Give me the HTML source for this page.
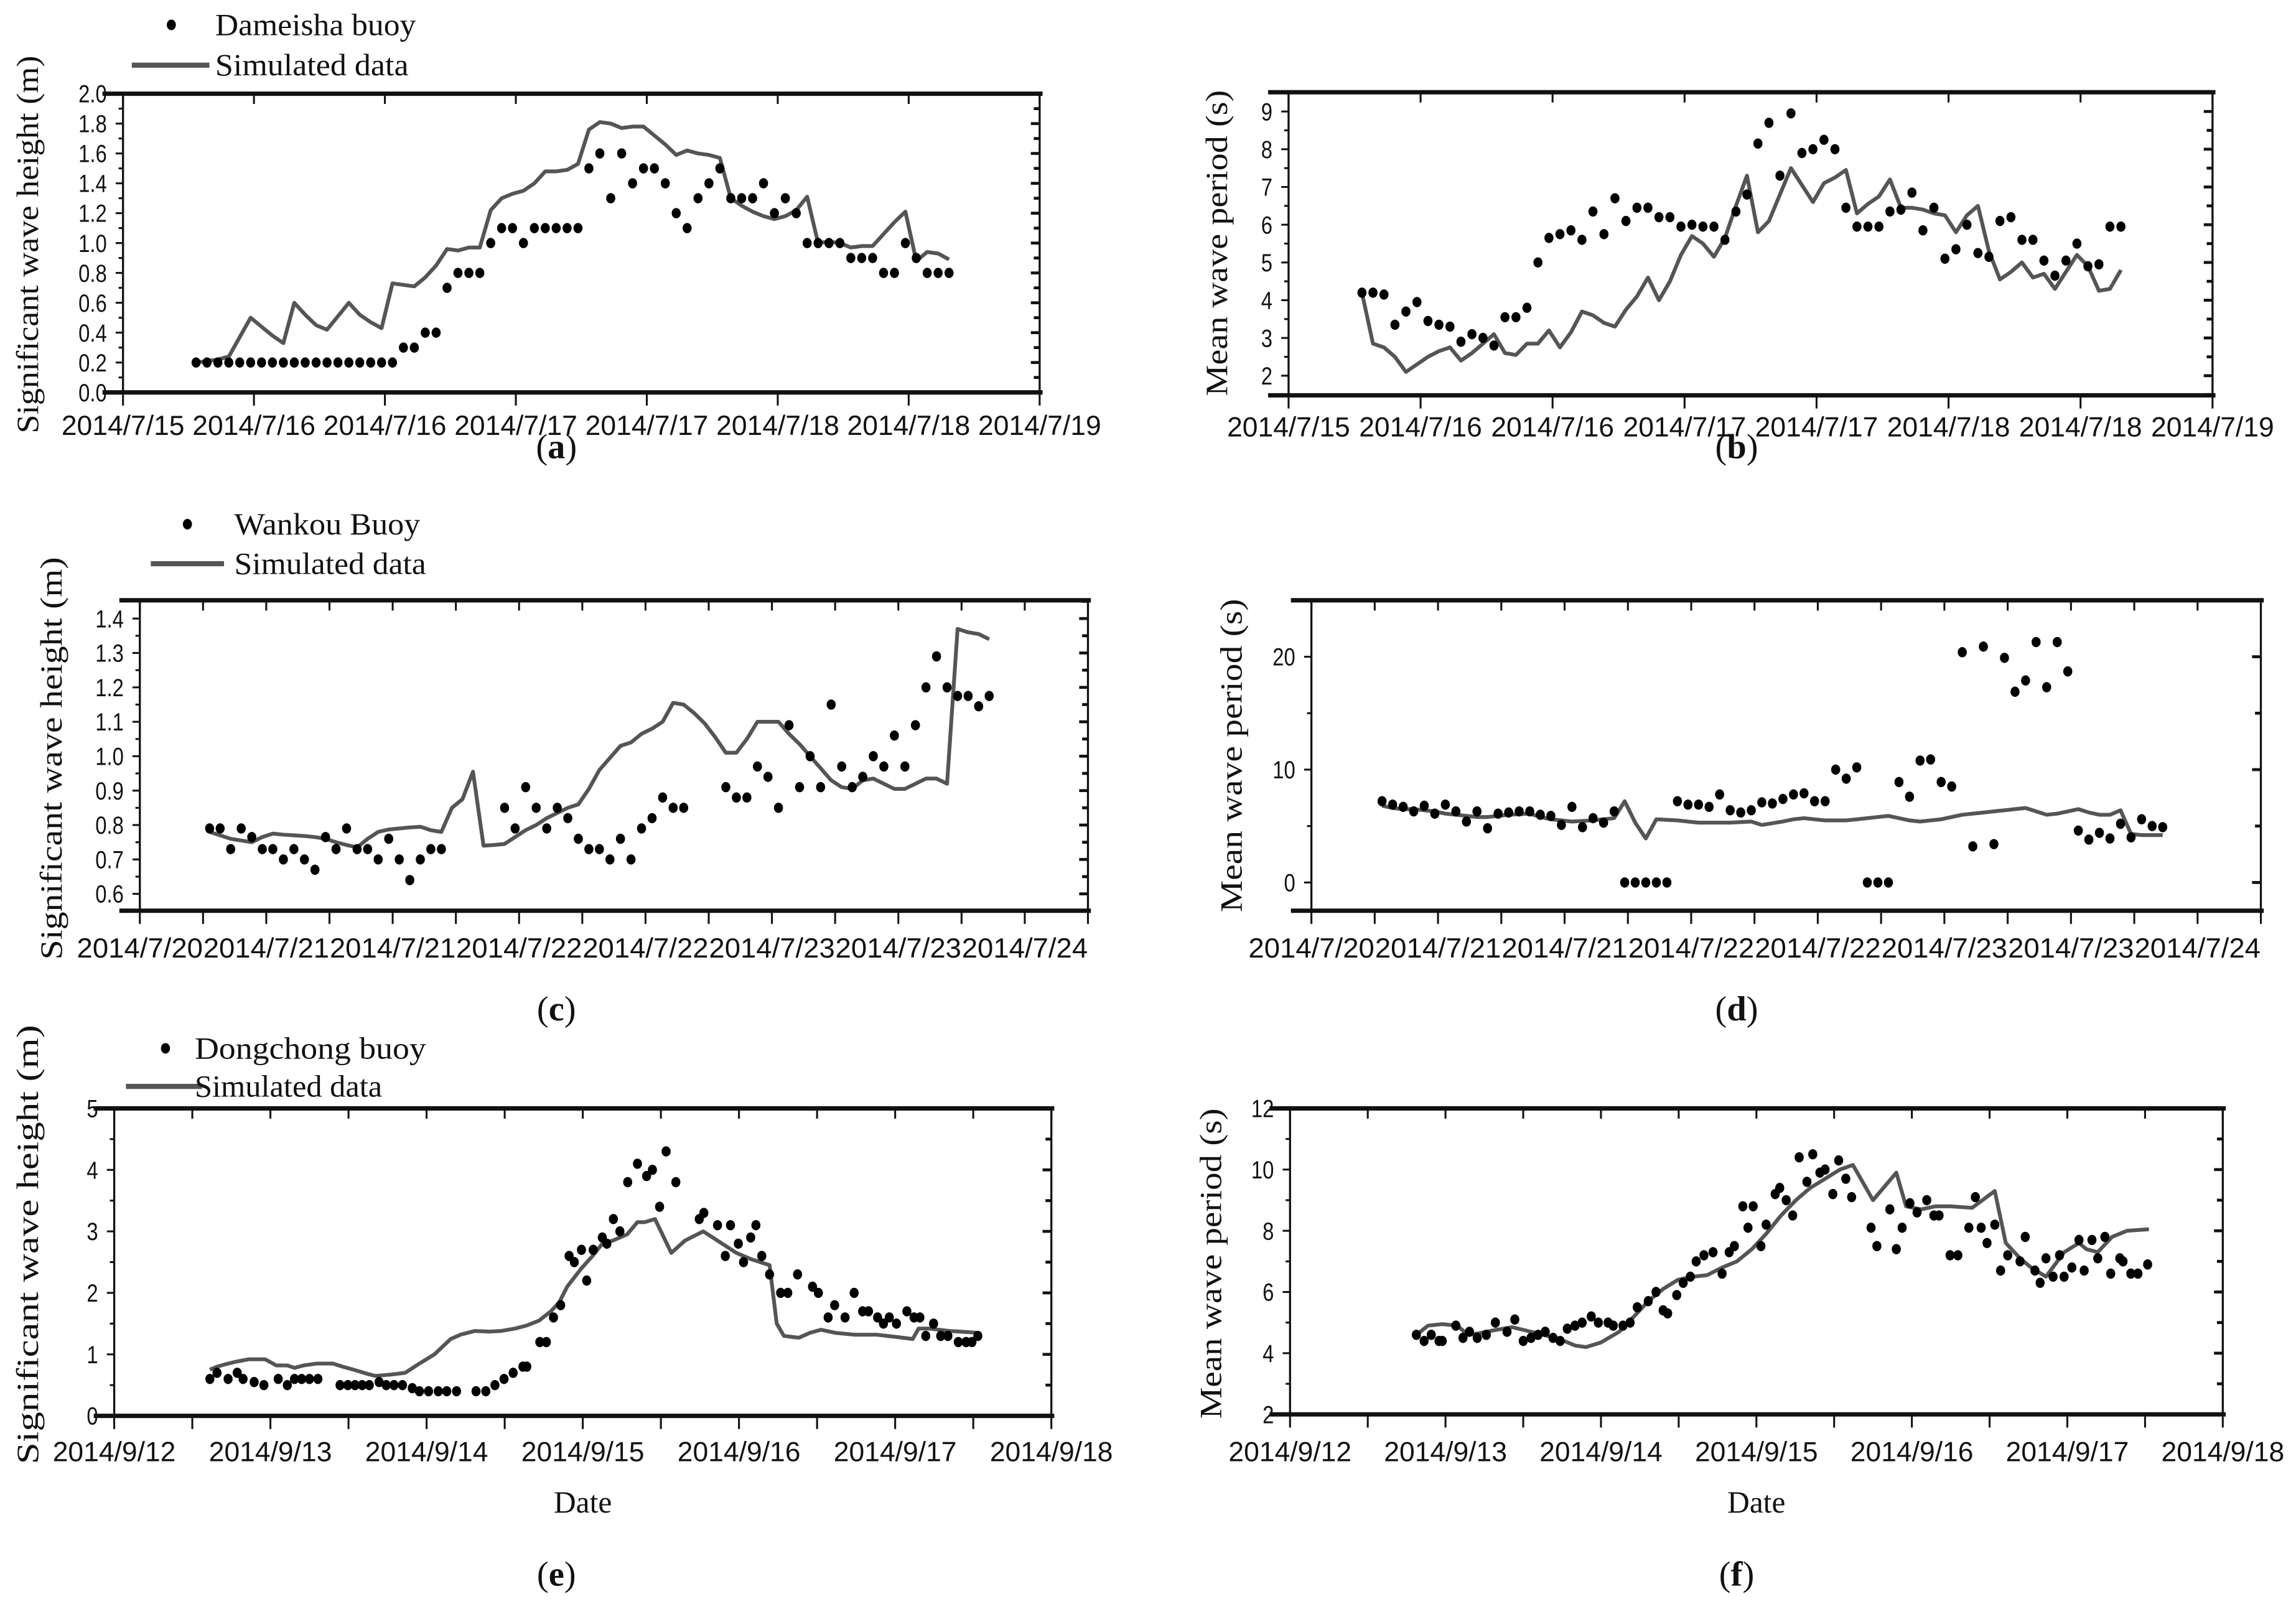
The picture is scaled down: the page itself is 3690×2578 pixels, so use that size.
<!DOCTYPE html>
<html><head><meta charset="utf-8">
<style>
html,body{margin:0;padding:0;background:#fff;}
svg{display:block;}
</style></head>
<body>
<svg id="fig" xmlns="http://www.w3.org/2000/svg" width="3690" height="2578" viewBox="0 0 1568 1095.5" preserveAspectRatio="none">
<rect x="0" y="0" width="1568" height="1095.5" fill="#fff"/>
</svg>
<script>
// ---------- DATA ----------
const aStart = 0.779;
const aObs = [0.2,0.2,0.2,0.2,0.2,0.2,0.2,0.2,0.2,0.2,0.2,0.2,0.2,0.2,0.2,0.2,0.2,0.2,0.2,
0.3,0.3,0.4,0.4,0.7,0.8,0.8,0.8,1.0,1.1,1.1,1.0,1.1,1.1,1.1,1.1,1.1,1.5,1.6,1.3,1.6,1.4,1.5,1.5,1.4,1.2,1.1,1.3,1.4,1.5,1.3,1.3,1.3,1.4,1.2,1.3,1.2,1.0,1.0,1.0,1.0,0.9,0.9,0.9,0.8,0.8,1.0,0.9,0.8,0.8,0.8];
const aSim = [0.20,0.21,0.22,0.24,0.37,0.50,0.44,0.38,0.33,0.60,0.52,0.45,0.42,0.51,0.60,0.52,0.47,0.43,0.73,0.72,0.71,0.77,0.85,0.96,0.95,0.97,0.97,1.22,1.30,1.33,1.35,1.40,1.48,1.48,1.49,1.53,1.76,1.81,1.80,1.77,1.78,1.78,1.72,1.66,1.59,1.62,1.60,1.59,1.57,1.30,1.25,1.21,1.18,1.16,1.18,1.22,1.31,1.00,1.01,1.00,0.97,0.98,0.98,1.06,1.14,1.21,0.88,0.94,0.93,0.89];
const bStart = 0.778;
const bObs = [4.2,4.2,4.15,3.35,3.7,3.95,3.45,3.35,3.3,2.9,3.1,3.0,2.8,3.55,3.55,3.8,5.0,5.65,5.75,5.85,5.6,6.35,5.75,6.7,6.1,6.45,6.45,6.2,6.2,5.95,6.0,5.95,5.95,5.6,6.35,6.8,8.15,8.7,7.3,8.95,7.9,8.0,8.25,8.0,6.45,5.95,5.95,5.95,6.35,6.4,6.85,5.85,6.45,5.1,5.35,6.0,5.25,5.15,6.1,6.2,5.6,5.6,5.05,4.65,5.05,5.5,4.9,4.95,5.95,5.95];
const bSim = [4.2,2.85,2.75,2.5,2.1,2.3,2.5,2.65,2.75,2.4,2.6,2.85,3.1,2.6,2.55,2.85,2.85,3.2,2.75,3.15,3.7,3.6,3.4,3.3,3.75,4.1,4.6,4.0,4.5,5.2,5.7,5.5,5.15,5.65,6.5,7.3,5.8,6.1,6.8,7.5,7.05,6.6,7.1,7.25,7.45,6.3,6.55,6.75,7.2,6.45,6.45,6.4,6.3,6.25,5.8,6.25,6.5,5.3,4.55,4.75,5.0,4.6,4.7,4.3,4.75,5.2,4.9,4.25,4.3,4.8];
const cStart = 0.776;
const cObs = [0.79,0.79,0.73,0.79,0.765,0.73,0.73,0.70,0.73,0.70,0.67,0.765,0.73,0.79,0.73,0.73,0.70,0.76,0.70,0.64,0.70,0.73,0.73,null,null,null,null,null,0.85,0.79,0.91,0.85,0.79,0.85,0.82,0.76,0.73,0.73,0.70,0.76,0.70,0.79,0.82,0.88,0.85,0.85,null,null,null,0.91,0.88,0.88,0.97,0.94,0.85,1.09,0.91,1.00,0.91,1.15,0.97,0.91,0.94,1.00,0.97,1.06,0.97,1.09,1.20,1.29,1.20,1.175,1.175,1.145,1.175];
const cSim = [0.78,0.77,0.76,0.755,0.75,0.765,0.775,0.772,0.77,0.768,0.765,0.76,0.75,0.742,0.735,0.76,0.78,0.787,0.79,0.793,0.795,0.785,0.78,0.85,0.875,0.955,0.74,0.742,0.745,0.765,0.785,0.80,0.82,0.835,0.85,0.86,0.905,0.96,0.995,1.03,1.04,1.065,1.08,1.10,1.155,1.15,1.125,1.095,1.055,1.01,1.01,1.05,1.10,1.10,1.10,1.065,1.035,1.0,0.965,0.93,0.91,0.905,0.93,0.935,0.92,0.905,0.905,0.92,0.935,0.935,0.92,1.37,1.36,1.355,1.34];
const dStart = 0.779;
const dObs = [7.2,6.9,6.7,6.3,6.8,6.1,6.9,6.3,5.4,6.3,4.8,6.1,6.2,6.3,6.3,6.0,5.9,5.1,6.7,4.9,5.7,5.3,6.3,0,0,0,0,0,7.2,6.9,6.9,6.7,7.8,6.4,6.2,6.4,7.1,7.0,7.4,7.8,7.9,7.2,7.2,10.0,9.2,10.2,0,0,0,8.9,7.6,10.8,10.9,8.9,8.5,20.4,3.2,20.9,3.4,19.9,16.9,17.9,21.3,17.3,21.3,18.7,4.6,3.8,4.4,3.9,5.2,4.0,5.6,5.0,4.9];
const dSim = [6.8,6.6,6.5,6.5,6.4,6.3,6.1,6.0,5.9,5.8,5.8,5.9,6.0,6.05,6.1,5.8,5.6,5.5,5.4,5.45,5.5,5.6,5.7,7.2,5.3,3.9,5.6,5.55,5.5,5.4,5.3,5.3,5.3,5.3,5.35,5.4,5.1,5.25,5.4,5.6,5.7,5.6,5.5,5.5,5.5,5.6,5.7,5.8,5.9,5.7,5.5,5.4,5.5,5.6,5.8,6.0,6.1,6.2,6.3,6.4,6.5,6.6,6.3,6.0,6.1,6.3,6.5,6.2,6.0,6.0,6.4,4.3,4.2,4.2,4.2];
const eObsT = [14.7,15.8,17.5,18.9,19.8,21.5,23.0,25.2,26.6,27.7,28.8,30.0,31.3,34.7,35.9,37.0,38.1,39.2,40.7,41.8,43.0,44.3,45.8,46.9,48.3,49.8,51.1,52.6,55.6,57.1,58.5,59.9,61.3,62.8,63.4,65.4,66.4,67.5,68.6,69.9,70.7,71.8,72.6,73.6,75.0,75.7,76.7,77.7,78.9,80.4,81.8,82.7,83.8,84.8,86.3,89.9,90.6,92.7,93.9,94.7,95.9,96.7,97.8,98.6,99.5,100.7,102.4,103.5,105.0,107.3,108.2,109.7,110.7,112.3,113.7,115.0,115.9,117.3,118.2,119.1,120.2,121.8,122.9,123.8,124.7,125.9,127.0,128.1,129.7,130.9,131.8,132.7];
const eObs = [0.6,0.7,0.6,0.7,0.6,0.55,0.5,0.6,0.5,0.6,0.6,0.6,0.6,0.5,0.5,0.5,0.5,0.5,0.55,0.5,0.5,0.5,0.45,0.4,0.4,0.4,0.4,0.4,0.4,0.4,0.5,0.6,0.7,0.8,0.8,1.2,1.2,1.6,1.8,2.6,2.5,2.7,2.2,2.7,2.9,2.8,3.2,3.0,3.8,4.1,3.9,4.0,3.4,4.3,3.8,3.2,3.3,3.1,2.6,3.1,2.8,2.5,2.9,3.1,2.6,2.3,2.0,2.0,2.3,2.1,2.0,1.6,1.8,1.6,2.0,1.7,1.7,1.6,1.5,1.6,1.5,1.7,1.6,1.6,1.3,1.5,1.3,1.3,1.2,1.2,1.2,1.3];
const eSimT = [14.7,15.8,17.5,18.7,20.7,23.2,24.9,26.6,27.7,29.1,31.1,33.6,35.1,36.8,39.0,40.1,42.4,44.7,46.9,49.2,51.7,53.2,55.4,57.7,59.4,61.6,63.4,65.3,67.1,68.4,69.6,71.8,73.5,75.0,76.6,78.8,80.4,81.5,83.1,85.6,87.7,90.5,92.7,95.6,97.8,100.7,101.8,102.9,105.2,106.9,108.6,110.8,113.7,117.1,120.4,122.7,123.6,125.2,128.4,132.9];
const eSim = [0.75,0.8,0.85,0.88,0.92,0.92,0.82,0.82,0.78,0.82,0.85,0.85,0.8,0.75,0.68,0.65,0.67,0.7,0.85,1.0,1.25,1.32,1.38,1.37,1.38,1.42,1.47,1.55,1.7,1.85,2.1,2.4,2.6,2.8,2.85,2.95,3.15,3.15,3.2,2.65,2.85,3.0,2.85,2.65,2.55,2.45,1.5,1.3,1.27,1.35,1.4,1.35,1.32,1.32,1.28,1.25,1.42,1.42,1.38,1.35];
const fObsT = [19.5,20.7,21.8,23.0,23.5,25.6,26.7,27.7,28.9,30.3,31.7,33.5,34.7,36.0,37.2,38.3,39.4,40.6,41.7,42.8,44.0,45.1,46.5,47.6,49.1,49.9,51.4,52.5,53.6,55.3,56.5,57.6,58.3,59.7,60.7,61.8,62.7,63.9,65.3,66.7,67.8,68.6,69.9,70.7,71.5,72.7,73.5,74.9,75.6,76.6,77.6,78.6,79.8,80.7,81.8,82.6,83.8,84.7,85.8,86.7,89.7,90.6,92.6,93.6,94.5,95.7,96.8,98.3,99.4,100.2,101.9,103.1,104.8,105.8,106.7,107.6,108.8,109.7,110.8,112.7,113.5,115.0,115.8,116.7,117.8,118.8,119.5,120.7,121.8,122.6,123.8,124.7,125.8,126.7,128.1,128.6,129.8,130.9,132.4];
const fObs = [4.6,4.4,4.6,4.4,4.4,4.9,4.5,4.7,4.5,4.6,5.0,4.7,5.1,4.4,4.5,4.6,4.7,4.5,4.4,4.8,4.9,5.0,5.2,5.0,5.0,4.9,4.9,5.0,5.5,5.7,6.0,5.4,5.3,5.9,6.3,6.5,7.0,7.2,7.3,6.6,7.3,7.5,8.8,8.1,8.8,7.5,8.2,9.2,9.4,9.0,8.5,10.4,9.6,10.5,9.9,10.0,9.2,10.3,9.7,9.1,8.1,7.5,8.7,7.4,8.1,8.9,8.6,9.0,8.5,8.5,7.2,7.2,8.1,9.1,8.1,7.6,8.2,6.7,7.2,7.0,7.8,6.7,6.3,7.1,6.5,7.2,6.5,6.8,7.7,6.7,7.7,7.1,7.8,6.6,7.1,7.0,6.6,6.6,6.9];
const fSimT = [19.5,21.3,23.5,25.8,27.5,29.2,31.5,34.3,37.2,40.0,42.3,44.0,45.7,48.0,50.8,53.1,55.3,57.6,59.9,62.2,64.4,66.7,69.0,71.3,73.5,75.8,78.1,80.3,82.6,84.9,86.9,90.0,93.6,95.1,97.4,99.7,101.9,105.3,108.8,110.5,112.7,114.4,116.7,119.5,121.8,122.95,124.7,126.9,129.2,132.6];
const fSim = [4.6,4.9,4.95,4.9,4.6,4.65,4.75,4.85,4.7,4.55,4.4,4.25,4.2,4.35,4.7,5.2,5.7,6.1,6.4,6.5,6.55,6.8,7.0,7.4,7.9,8.5,9.0,9.4,9.7,10.0,10.15,9.0,9.9,8.8,8.7,8.8,8.8,8.75,9.3,7.6,7.1,6.8,6.5,7.3,7.6,7.4,7.3,7.8,8.0,8.05];
const julyAB = ["2014/7/15","2014/7/16","2014/7/16","2014/7/17","2014/7/17","2014/7/18","2014/7/18","2014/7/19"];
const julyCD = ["2014/7/20","2014/7/21","2014/7/21","2014/7/22","2014/7/22","2014/7/23","2014/7/23","2014/7/24"];
const septEF = ["2014/9/12","2014/9/13","2014/9/14","2014/9/15","2014/9/16","2014/9/17","2014/9/18"];
const aYTicks = ["0.0","0.2","0.4","0.6","0.8","1.0","1.2","1.4","1.6","1.8","2.0"];
const bYTicks = ["2","3","4","5","6","7","8","9"];
const cYTicks = ["0.6","0.7","0.8","0.9","1.0","1.1","1.2","1.3","1.4"];
const dYTicks = ["0","10","20"];
const eYTicks = ["0","1","2","3","4","5"];
const fYTicks = ["2","4","6","8","10","12"];

// ---------- DRAWING ----------
const NS = "http://www.w3.org/2000/svg";
const svg = document.getElementById("fig");
function mk(tag, attrs, parent){
  const e = document.createElementNS(NS, tag);
  for (const k in attrs) e.setAttribute(k, attrs[k]);
  (parent||svg).appendChild(e);
  return e;
}
const SANS = '"Liberation Sans", Arial, sans-serif';
const SERIF = '"Liberation Serif", "Times New Roman", serif';

function panel(p){
  const g = mk("g", {});
  
  
  const sx = v => p.x0 + (v - p.xmin) / (p.xmax - p.xmin) * (p.x1 - p.x0);
  const sy = v => p.y1 - (v - p.ymin) / (p.ymax - p.ymin) * (p.y1 - p.y0);
  const fr = mk("g", {}, g);
  
  
  mk("line", {x1:p.x0-14, y1:p.y0, x2:p.x1+2, y2:p.y0, stroke:"#111", "stroke-width":3}, fr);
  mk("line", {x1:p.x0-14, y1:p.y1, x2:p.x1+2, y2:p.y1, stroke:"#111", "stroke-width":3}, fr);
  mk("line", {x1:p.x0, y1:p.y0, x2:p.x0, y2:p.y1, stroke:"#111", "stroke-width":1.4}, fr);
  mk("line", {x1:p.x1, y1:p.y0, x2:p.x1, y2:p.y1, stroke:"#111", "stroke-width":1.4}, fr);
  const xa = mk("g", {}, g);
  
  
  for (let t = p.xmin; t <= p.xmax + 1e-9; t += p.xminor){
    const X = sx(t);
    mk("line", {x1:X, y1:p.y1, x2:X, y2:p.y1+9, stroke:"#111", "stroke-width":1.3}, xa);
    mk("line", {x1:X, y1:p.y0, x2:X, y2:p.y0+7, stroke:"#111", "stroke-width":1.3}, xa);
  }
  p.xLabels.forEach((lab, i) => {
    const X = sx(p.xfirst + i * p.xstep);
    const tx = mk("text", {x:X, y:p.xLabelY, "text-anchor":"middle", "font-family":SANS, "font-size":19, textLength:p.xLabelW, lengthAdjust:"spacingAndGlyphs", fill:"#111"}, xa);
    
    
    tx.textContent = lab;
  });
  const ya = mk("g", {}, g);
  
  
  for (let v = p.yfirst - Math.floor((p.yfirst - p.ymin)/p.yminor)*p.yminor; v <= p.ymax + 1e-9; v += p.yminor){
    const Y = sy(v);
    const major = Math.abs(((v - p.yfirst)/p.ystep) - Math.round((v - p.yfirst)/p.ystep)) < 1e-6;
    mk("line", {x1:p.x0-(major?5:3), y1:Y, x2:p.x0, y2:Y, stroke:"#111", "stroke-width":1.3}, ya);
    mk("line", {x1:p.x1-(major?6:4), y1:Y, x2:p.x1, y2:Y, stroke:"#111", "stroke-width":2}, ya);
  }
  const lx = p.x0 - 11;
  p.yLabels.forEach((lab, i) => {
    const Y = sy(p.yfirst + i * p.ystep);
    const tx = mk("text", {x:lx, y:Y+6, "text-anchor":"end", "font-family":SANS, "font-size":17, transform:`translate(${lx},0) scale(0.82,1) translate(${-lx},0)`, fill:"#111"}, ya);
    
    
    tx.textContent = lab;
  });
  const yt = mk("text", {x:0, y:0, "text-anchor":"middle", "font-family":SERIF, "font-size":21, textLength:p.yTitleW, lengthAdjust:"spacingAndGlyphs", fill:"#111", transform:`translate(${p.yTitleX},${p.yTitleY}) rotate(-90)`}, g);
  
  
  yt.textContent = p.yTitle;
  let d = "";
  p.simT.forEach((t, i) => { const v = p.sim[i]; if (v == null) return; d += (d ? "L" : "M") + sx(t).toFixed(2) + "," + sy(v).toFixed(2); });
  const path = mk("path", {d:d, fill:"none", stroke:"#555", "stroke-width":2.6, "stroke-linejoin":"round"}, g);
  
  
  const dg = mk("g", {}, g);
  
  
  p.obsT.forEach((t, i) => {
    const v = p.obs[i]; if (v == null) return;
    const c = mk("ellipse", {cx:sx(t), cy:sy(v), rx:3.1, ry:3.5, fill:"#000"}, dg);
    
    
  });
  const pl = mk("text", {x:p.letterX, y:p.letterY, "text-anchor":"middle", "font-family":SERIF, "font-size":24, fill:"#111"}, g);
  
  
  pl.innerHTML = '(<tspan font-weight="bold">' + p.letter + '</tspan>)';
  if (p.date){
    const dt = mk("text", {x:(p.x0+p.x1)/2, y:1033, "text-anchor":"middle", "font-family":SERIF, "font-size":21, fill:"#111"}, g);
    
    
    dt.textContent = "Date";
  }
  if (p.legend){
    const L = p.legend;
    const lg = mk("g", {}, g);
    
    
    const dot = mk("ellipse", {cx:L.dotX, cy:L.dotY, rx:3.1, ry:3.6, fill:"#000"}, lg);
    
    
    const t1 = mk("text", {x:L.tx, y:L.dotY+7, "font-family":SERIF, "font-size":21, textLength:L.w1, lengthAdjust:"spacingAndGlyphs", fill:"#111"}, lg);
    
    
    t1.textContent = L.name;
    const ln = mk("line", {x1:L.lx0, y1:L.lineY, x2:L.lx1, y2:L.lineY, stroke:"#555", "stroke-width":3.5}, lg);
    
    
    const t2 = mk("text", {x:L.tx, y:L.lineY+7, "font-family":SERIF, "font-size":21, textLength:L.w2, lengthAdjust:"spacingAndGlyphs", fill:"#111"}, lg);
    
    
    t2.textContent = "Simulated data";
  }
}
const hourly = (start, n) => Array.from({length:n}, (_, i) => start + i/24);

panel({name:"panel-a-wave-height", x0:84, x1:710, y0:64, y1:268, xmin:0.5, xmax:4.0, xminor:0.5, xfirst:0.5, xstep:0.5,
  ymin:0, ymax:2.0, yfirst:0, ystep:0.2, yminor:0.1, xLabels:julyAB, xLabelY:297, xLabelW:84, yLabels:aYTicks,
  yTitle:"Significant wave height (m)", yTitleX:26, yTitleY:167, yTitleW:258,
  obsT:hourly(aStart, aObs.length), obs:aObs, simT:hourly(aStart, aSim.length), sim:aSim, letter:"a", letterX:380, letterY:313,
  legend:{name:"Dameisha buoy", dotX:117, dotY:17, tx:147, w1:137, lx0:90, lx1:143, lineY:44.5, w2:132}});
panel({name:"panel-b-wave-period", x0:880, x1:1511, y0:63, y1:270, xmin:0.5, xmax:4.0, xminor:0.5, xfirst:0.5, xstep:0.5,
  ymin:1.48, ymax:9.51, yfirst:2, ystep:1, yminor:0.5, xLabels:julyAB, xLabelY:298, xLabelW:84, yLabels:bYTicks,
  yTitle:"Mean wave period (s)", yTitleX:838, yTitleY:166, yTitleW:209,
  obsT:hourly(bStart, bObs.length), obs:bObs, simT:hourly(bStart, bSim.length), sim:bSim, letter:"b", letterX:1186, letterY:313});
panel({name:"panel-c-wave-height", x0:95.5, x1:743, y0:410, y1:622, xmin:0.5, xmax:4.25, xminor:0.25, xfirst:0.5, xstep:0.5,
  ymin:0.551, ymax:1.453, yfirst:0.6, ystep:0.1, yminor:0.05, xLabels:julyCD, xLabelY:654, xLabelW:86, yLabels:cYTicks,
  yTitle:"Significant wave height (m)", yTitleX:42, yTitleY:518, yTitleW:275,
  obsT:hourly(cStart, cObs.length), obs:cObs, simT:hourly(cStart, cSim.length), sim:cSim, letter:"c", letterX:380, letterY:697,
  legend:{name:"Wankou Buoy", dotX:128, dotY:358, tx:160, w1:127, lx0:103, lx1:153, lineY:385, w2:131}});
panel({name:"panel-d-wave-period", x0:895.6, x1:1544, y0:410, y1:622, xmin:0.5, xmax:4.25, xminor:0.25, xfirst:0.5, xstep:0.5,
  ymin:-2.5, ymax:25.0, yfirst:0, ystep:10, yminor:5, xLabels:julyCD, xLabelY:654, xLabelW:86, yLabels:dYTicks,
  yTitle:"Mean wave period (s)", yTitleX:848, yTitleY:516, yTitleW:214,
  obsT:hourly(dStart, dObs.length), obs:dObs, simT:hourly(dStart, dSim.length), sim:dSim, letter:"d", letterX:1186, letterY:697});
panel({name:"panel-e-wave-height", x0:78, x1:718, y0:757, y1:967, xmin:0, xmax:144, xminor:12, xfirst:0, xstep:24,
  ymin:0, ymax:5, yfirst:0, ystep:1, yminor:0.5, xLabels:septEF, xLabelY:998, xLabelW:84, yLabels:eYTicks,
  yTitle:"Significant wave height (m)", yTitleX:26, yTitleY:850, yTitleW:300,
  obsT:eObsT, obs:eObs, simT:eSimT, sim:eSim, letter:"e", letterX:380, letterY:1083, date:true,
  legend:{name:"Dongchong buoy", dotX:113, dotY:716, tx:133, w1:158, lx0:86, lx1:138, lineY:742, w2:128}});
panel({name:"panel-f-wave-period", x0:881, x1:1518, y0:757, y1:966, xmin:0, xmax:144, xminor:12, xfirst:0, xstep:24,
  ymin:2, ymax:12, yfirst:2, ystep:2, yminor:1, xLabels:septEF, xLabelY:998, xLabelW:84, yLabels:fYTicks,
  yTitle:"Mean wave period (s)", yTitleX:834, yTitleY:863, yTitleW:212,
  obsT:fObsT, obs:fObs, simT:fSimT, sim:fSim, letter:"f", letterX:1186, letterY:1083, date:true});
</script>
</body></html>
